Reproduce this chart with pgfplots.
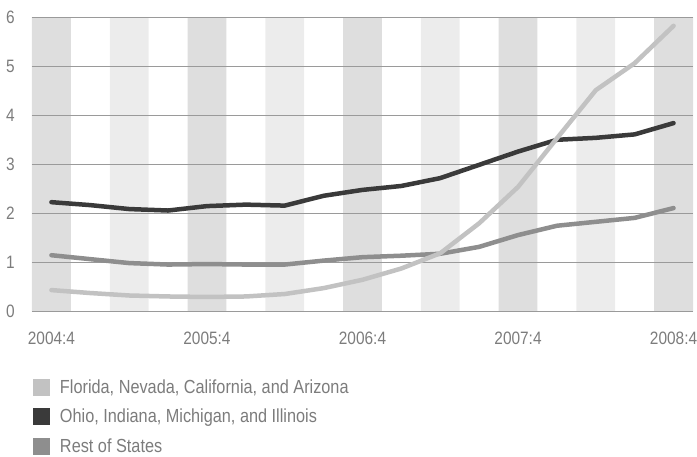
\documentclass[border=0pt]{standalone}
\usepackage{pgfplots}
\pgfplotsset{compat=1.18}
\usepackage{fontspec}
\setmainfont{Liberation Sans}[FakeStretch=0.86]
\definecolor{banddark}{HTML}{DEDEDE}
\definecolor{bandlight}{HTML}{ECECEC}
\definecolor{gridc}{HTML}{9A9A9A}
\definecolor{txt}{HTML}{7C7C7C}
\definecolor{cFL}{HTML}{C2C2C2}
\definecolor{cOH}{HTML}{3A3A3A}
\definecolor{cRS}{HTML}{8E8E8E}
\begin{document}
\begin{tikzpicture}
\useasboundingbox (-32bp,-145.3bp) rectangle (665bp,311.7bp);
\begin{axis}[
 at={(0,0)}, anchor=south west,
 scale only axis, width=661bp, height=294.7bp,
 xmin=-0.5, xmax=16.5, ymin=0, ymax=6,
 axis line style={draw=none},
 major tick length=0pt,
 ytick={0,...,6},
 xtick={0,4,8,12,16},
 xticklabels={2004:4,2005:4,2006:4,2007:4,2008:4},
 tick label style={font=\fontsize{18}{21}\selectfont, text=txt},
 yticklabel style={inner sep=0pt, anchor=east, xshift=-17bp},
 xticklabel style={inner sep=0pt, anchor=north, yshift=-20bp},
 /pgf/number format/assume math mode=true,
 legend style={at={(axis description cs:0,0)}, anchor=north west, xshift=1bp, yshift=-67bp,
   draw=none, fill=none, inner sep=0pt, outer sep=0pt, row sep=12.5bp, column sep=10bp,
   font=\fontsize{19}{21}\selectfont, text=txt,
   nodes={inner sep=0pt}},
 legend cell align=left,
 reverse legend,
 legend image code/.code={\fill[draw=none] (0bp,-8.5bp) rectangle (17bp,8.5bp);},
]
\addplot[ybar, bar width=1, bar shift=0, fill=banddark, draw=none, forget plot]
 coordinates {(0,6) (4,6) (8,6) (12,6) (16,6)};
\addplot[ybar, bar width=1, bar shift=0, fill=bandlight, draw=none, forget plot]
 coordinates {(2,6) (6,6) (10,6) (14,6)};
\pgfplotsinvokeforeach{0,1,2,3,4,5,6}{
 \addplot[gridc, line width=0.9bp, forget plot] coordinates {(-0.5,#1) (16.5,#1)};
}
% Rest of States
\addplot[color=cRS, line width=4.5bp, line cap=round, line join=round] coordinates {
 (0,1.15) (1,1.07) (2,0.99) (3,0.96) (4,0.97) (5,0.96) (6,0.96) (7,1.04) (8,1.11)
 (9,1.14) (10,1.18) (11,1.32) (12,1.56) (13,1.75) (14,1.83) (15,1.91) (16,2.11)};
% Ohio etc.
\addplot[color=cOH, line width=4.5bp, line cap=round, line join=round] coordinates {
 (0,2.23) (1,2.17) (2,2.09) (3,2.06) (4,2.15) (5,2.18) (6,2.16) (7,2.36) (8,2.48)
 (9,2.56) (10,2.72) (11,2.99) (12,3.26) (13,3.50) (14,3.54) (15,3.61) (16,3.84)};
% Florida etc.
\addplot[color=cFL, line width=4.5bp, line cap=round, line join=round] coordinates {
 (0,0.44) (1,0.38) (2,0.33) (3,0.31) (4,0.30) (5,0.31) (6,0.36) (7,0.48) (8,0.65)
 (9,0.88) (10,1.19) (11,1.80) (12,2.54) (13,3.53) (14,4.51) (15,5.06) (16,5.82)};
\legend{Rest of States, {Ohio, Indiana, Michigan, and Illinois}, {Florida, Nevada, California, and Arizona}}
\end{axis}
\end{tikzpicture}
\end{document}
